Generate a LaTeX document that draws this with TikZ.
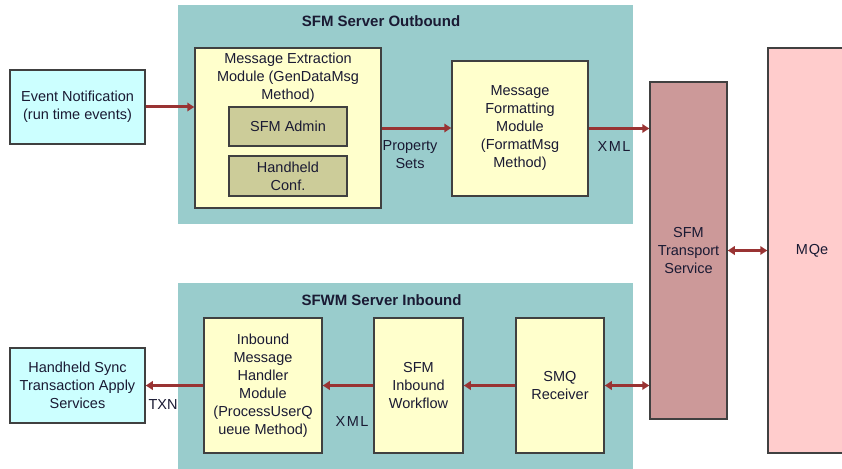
\documentclass[tikz,border=0pt]{standalone}
\usepackage{fontspec}
\setmainfont{Liberation Sans}
\usetikzlibrary{arrows.meta}
\definecolor{teal}{HTML}{99CCCC}
\definecolor{ylw}{HTML}{FFFFCC}
\definecolor{olive}{HTML}{CCCC99}
\definecolor{cyanl}{HTML}{CCFFFF}
\definecolor{trans}{HTML}{CC9999}
\definecolor{pinkl}{HTML}{FFCCCC}
\definecolor{arr}{HTML}{993333}
\definecolor{txt}{HTML}{1A1A33}
\definecolor{bord}{HTML}{404040}
\begin{document}
\begin{tikzpicture}[x=1pt,y=-1pt,
  every node/.style={font=\fontsize{14.5}{18}\selectfont, text=txt, align=center, inner sep=0pt},
  box/.style={draw=bord, line width=1.5pt, rectangle},
  cont/.style={rectangle, fill=teal, draw=none},
  ttl/.style={font=\fontsize{15}{18}\selectfont\bfseries},
  flow/.style={draw=arr, line width=3pt, -{Triangle[length=7pt,width=8.5pt]}},
  flow2/.style={draw=arr, line width=3pt, {Triangle[length=7pt,width=8.5pt]}-{Triangle[length=7pt,width=8.5pt]}}
]
\useasboundingbox (0,0) rectangle (842,468);
% containers
\node[cont, minimum width=455pt, minimum height=219pt] (outb) at (405.5,114.5) {};
\node[ttl] (outbt) at (381,21) {SFM Server Outbound};
\node[cont, minimum width=455pt, minimum height=192pt] (inb) at (405.5,379) {};
\node[ttl] (inbt) at (381.5,300) {SFWM Server Inbound};
% outbound
\node[box, fill=cyanl, minimum width=135pt, minimum height=74pt] (evt) at (77.5,107) {Event Notification\\(run time events)};
\node[box, fill=ylw, minimum width=186pt, minimum height=160pt] (ext) at (288,128) {};
\node (extt) at (288,78) {Message Extraction\\Module (GenDataMsg\\Method)};
\node[box, fill=olive, minimum width=118pt, minimum height=39pt] (adm) at (288,126.5) {SFM Admin};
\node[box, fill=olive, minimum width=118pt, minimum height=40pt] (hh) at (288,176) {Handheld\\Conf.};
\node[box, fill=ylw, minimum width=136pt, minimum height=135pt] (fmt) at (520,128.5) {Message\\Formatting\\Module\\(FormatMsg\\Method)};
% right
\node[box, fill=trans, minimum width=77pt, minimum height=337pt] (trn) at (688.5,250.5) {SFM\\Transport\\Service};
\node[box, fill=pinkl, minimum width=88pt, minimum height=405pt] (mqe) at (812,250.5) {M\kern1pt Qe};
% inbound
\node[box, fill=ylw, minimum width=118pt, minimum height=135pt] (ihm) at (263,385.5) {Inbound\\Message\\Handler\\Module\\(ProcessUserQ\\ueue Method)};
\node[box, fill=ylw, minimum width=89pt, minimum height=135pt] (wf) at (418.5,385.5) {SFM\\Inbound\\Workflow};
\node[box, fill=ylw, minimum width=88pt, minimum height=135pt] (smq) at (560,385.5) {SMQ\\Receiver};
\node[box, fill=cyanl, minimum width=135pt, minimum height=75pt] (hs) at (77.5,385.5) {Handheld Sync\\Transaction Apply\\Services};
% connectors
\draw[flow] (evt.east) -- (ext.west |- evt.east);
\draw[flow] (ext.east) -- (fmt.west |- ext.east);
\draw[flow] (fmt.east) -- (trn.west |- fmt.east);
\draw[flow2] (trn.east) -- (mqe.west |- trn.east);
\draw[flow2] (smq.east) -- (trn.west |- smq.east);
\draw[flow] (smq.west) -- (wf.east);
\draw[flow] (wf.west) -- (ihm.east);
\draw[flow] (ihm.west) -- (hs.east |- ihm.west);
% labels
\node (ps) at (410,155) {Property\\Sets};
\node (xml1) at (614,147) {X\kern1.5pt M\kern1.5pt L};
\node (txn) at (163,405) {TXN};
\node (xml2) at (352,422) {X\kern1.5pt M\kern1.5pt L};
\end{tikzpicture}
\end{document}
